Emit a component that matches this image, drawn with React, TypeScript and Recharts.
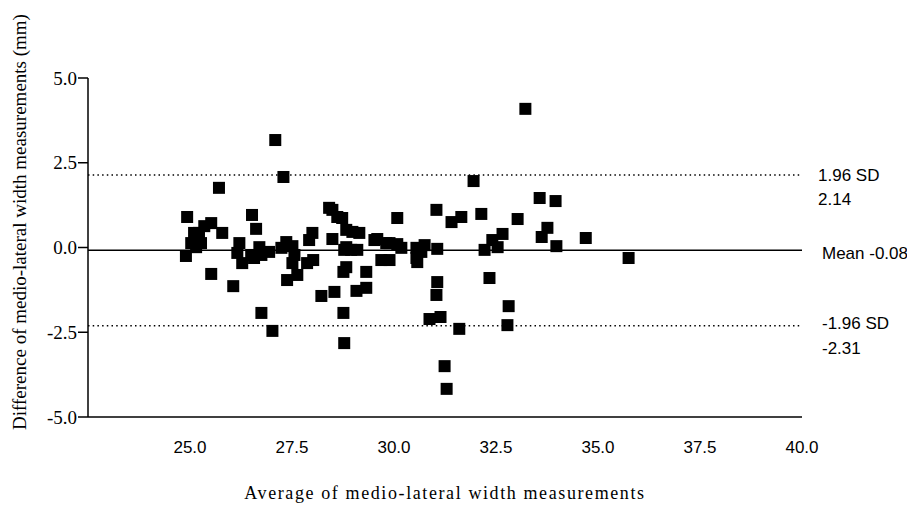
import { ScatterChart, Scatter, XAxis, YAxis, ReferenceLine, Label } from 'recharts'

// average of the two measurements (mm)
const avgVals = [
  24.93, 25.52, 25.35, 25.79, 25.10, 25.22, 25.03, 25.27, 25.15, 24.90,
  25.71, 25.52, 26.06, 26.52, 26.62, 26.21, 26.16, 26.28, 26.50, 26.70,
  26.75, 26.94, 26.57, 27.09, 27.29, 27.24, 27.36, 27.51, 27.56, 27.51,
  27.38, 27.63, 27.92, 28.00, 27.87, 28.02, 28.22, 26.75, 27.02,
  28.41, 28.49, 28.61, 28.73, 28.49, 28.83, 28.98, 29.15, 28.83, 28.95,
  29.10, 28.78, 29.52, 29.59, 29.81, 29.89, 30.08, 30.18, 30.08, 30.55,
  30.67, 30.55, 30.57, 30.75, 31.06, 31.04, 31.41, 31.65, 31.95, 32.14,
  29.69, 29.89, 28.83, 28.76, 29.32, 28.54, 29.08, 29.32, 28.76, 28.78,
  31.06, 31.04, 30.87, 31.14, 31.60, 31.24, 31.29,
  32.22, 32.41, 32.66, 32.54, 32.34, 32.81, 32.78, 33.03, 33.22, 33.57,
  33.96, 33.76, 33.62, 33.98, 34.70, 35.75,
]

// difference between the two measurements (mm)
const diffVals = [
  0.90, 0.72, 0.63, 0.43, 0.43, 0.43, 0.13, 0.13, 0.01, -0.25,
  1.76, -0.78, -1.14, 0.96, 0.55, 0.13, -0.16, -0.46, -0.22, 0.01,
  -0.22, -0.13, -0.31, 3.17, 2.08, -0.01, 0.16, 0.04, -0.22, -0.46,
  -0.96, -0.81, 0.22, 0.43, -0.46, -0.37, -1.43, -1.93, -2.46,
  1.17, 1.11, 0.90, 0.87, 0.25, 0.52, 0.46, 0.43, 0.01, -0.07,
  -0.07, -0.07, 0.22, 0.25, 0.13, 0.13, 0.10, -0.01, 0.87, -0.01,
  -0.13, -0.31, -0.43, 0.07, -0.04, 1.11, 0.75, 0.90, 1.96, 0.99,
  -0.37, -0.37, -0.58, -0.72, -0.72, -1.31, -1.28, -1.19, -1.93, -2.82,
  -1.02, -1.40, -2.11, -2.05, -2.40, -3.50, -4.17,
  -0.07, 0.22, 0.40, 0.01, -0.90, -1.73, -2.29, 0.84, 4.09, 1.46,
  1.37, 0.58, 0.31, 0.04, 0.28, -0.31,
]

const xTicks = [25, 27.5, 30, 32.5, 35, 37.5, 40]
const yTicks = [-5, -2.5, 0, 2.5, 5]

const meanDiff = -0.08
const upperLimit = 2.14
const lowerLimit = -2.31

const points = avgVals.map((x, i) => ({ avg: x, diff: diffVals[i] }))

const serif = '"Liberation Serif", "Times New Roman", serif'
const sans = '"Liberation Sans", Arial, sans-serif'

const SquareDot = (props: any) => {
  const { cx, cy } = props
  return <rect x={cx - 6} y={cy - 6} width={12} height={12} fill="#000" />
}

const YTick = (props: any) => {
  const { x, y, payload } = props
  return (
    <text x={x} y={y} textAnchor="end" dominantBaseline="central" fontFamily={serif} fontSize={19} fill="#000">
      {Number(payload.value).toFixed(1)}
    </text>
  )
}

const XTick = (props: any) => {
  const { x, y, payload } = props
  return (
    <text x={x} y={y + 8} textAnchor="middle" dominantBaseline="central" fontFamily={sans} fontSize={17} fill="#000">
      {Number(payload.value).toFixed(1)}
    </text>
  )
}

const YTitle = () => (
  <text
    x={11}
    y={214}
    transform="rotate(-90, 11, 214)"
    textAnchor="middle"
    dominantBaseline="central"
    fontFamily={serif}
    fontSize={19}
    fill="#000"
  >
    Difference of medio-lateral width measurements (mm)
  </text>
)

const XTitle = () => (
  <text
    x={437}
    y={491}
    textAnchor="middle"
    fontFamily={serif}
    fontSize={18}
    letterSpacing={1.6}
    fill="#000"
  >
    Average of medio-lateral width measurements
  </text>
)

const labelStyle = { fontFamily: sans, fontSize: 17, fill: '#000' }

export default function App() {
  return (
    <ScatterChart width={900} height={495} margin={{ top: 70, right: 106, bottom: 0, left: 0 }}>
      <XAxis
        type="number"
        dataKey="avg"
        domain={[22.5, 40]}
        ticks={xTicks}
        tickLine={false}
        tickSize={20}
        tick={XTick}
        axisLine={{ stroke: '#000', strokeWidth: 1.5 }}
        height={86}
        allowDataOverflow
        label={XTitle}
      />
      <YAxis
        type="number"
        dataKey="diff"
        domain={[-5, 5]}
        ticks={yTicks}
        tickSize={10}
        tickMargin={1}
        tick={YTick}
        tickLine={{ stroke: '#000', strokeWidth: 1.5 }}
        axisLine={{ stroke: '#000', strokeWidth: 1.5 }}
        width={80}
        label={YTitle}
      />
      <ReferenceLine y={upperLimit} stroke="#000" strokeWidth={1.5} strokeDasharray="1.5 3.2">
        <Label value="1.96 SD" position="right" offset={16} style={labelStyle} />
        <Label value={upperLimit.toFixed(2)} position="right" offset={16} dy={24} style={labelStyle} />
      </ReferenceLine>
      <ReferenceLine y={meanDiff} stroke="#000" strokeWidth={1.5}>
        <Label value={`Mean ${meanDiff.toFixed(2)}`} position="right" offset={20} dy={3} style={labelStyle} />
      </ReferenceLine>
      <ReferenceLine y={lowerLimit} stroke="#000" strokeWidth={1.5} strokeDasharray="1.5 3.2">
        <Label value="-1.96 SD" position="right" offset={20} dy={-3} style={labelStyle} />
        <Label value={lowerLimit.toFixed(2)} position="right" offset={20} dy={22} style={labelStyle} />
      </ReferenceLine>
      <Scatter data={points} shape={SquareDot} isAnimationActive={false} />
    </ScatterChart>
  )
}
